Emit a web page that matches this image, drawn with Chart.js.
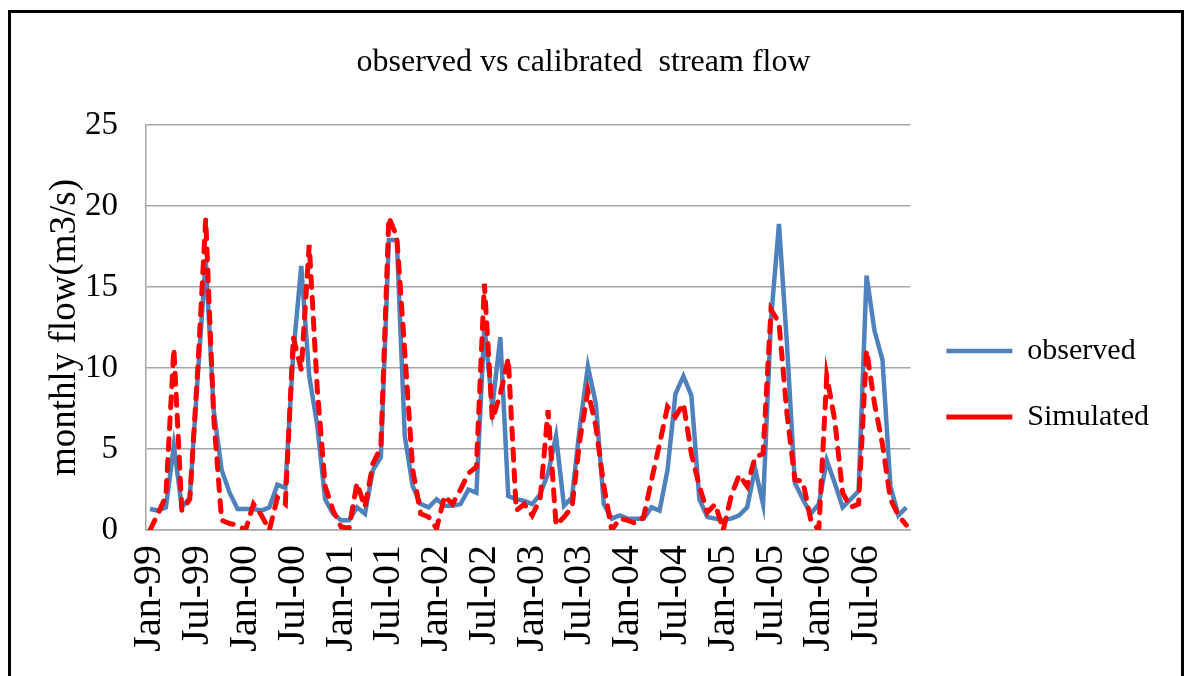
<!DOCTYPE html>
<html>
<head>
<meta charset="utf-8">
<script src="https://cdn.jsdelivr.net/npm/chart.js@4.4.1/dist/chart.umd.min.js"></script>
<style>
  html, body { margin: 0; padding: 0; background: #fff; overflow: hidden; }
  #frame { position: absolute; left: 8px; top: 10px; width: 1176px; height: 720px; border: 3px solid #000; box-sizing: border-box; }
  #wrap { position: absolute; left: 0; top: 0; width: 1185px; height: 676px; }
</style>
</head>
<body>
<div id="frame"></div>
<div id="wrap"><canvas id="flowChart" width="1185" height="676"></canvas></div>
<script>
// monthly flow, Jan-1999 .. Dec-2006
var months = ['Jan', 'Feb', 'Mar', 'Apr', 'May', 'Jun', 'Jul', 'Aug', 'Sep', 'Oct', 'Nov', 'Dec'];
var years = ['99', '00', '01', '02', '03', '04', '05', '06'];

var observed = [
  1.3, 1.2, 1.4, 5.2, 1.4, 2.0, 9.5, 16.7, 7.4, 3.7, 2.3, 1.3,
  1.3, 1.3, 1.2, 1.4, 2.8, 2.6, 10.9, 16.3, 9.5, 6.5, 1.9, 1.0,
  0.6, 0.6, 1.4, 1.0, 3.7, 4.5, 17.9, 17.9, 5.8, 2.7, 1.6, 1.4,
  1.9, 1.5, 1.5, 1.6, 2.5, 2.3, 12.6, 7.6, 11.9, 2.1, 1.9, 1.8,
  1.6, 2.2, 3.5, 5.8, 1.5, 2.0, 6.4, 10.1, 7.8, 1.6, 0.7, 0.9,
  0.7, 0.7, 0.7, 1.4, 1.2, 3.7, 8.4, 9.5, 8.3, 1.9, 0.8, 0.7,
  0.6, 0.7, 0.9, 1.4, 3.8, 1.6, 13.0, 18.9, 11.5, 2.9, 1.9, 1.0,
  1.6, 4.3, 2.9, 1.4, 1.9, 2.4, 15.7, 12.3, 10.5, 2.7, 0.9, 1.4
];
var simulated = [
  0, 1.0, 2.1, 11.2, 1.2, 1.9, 9.9, 19.2, 7.0, 0.6, 0.4, 0.3,
  0, 1.6, 0.9, 0, 2.0, 1.6, 11.9, 9.9, 17.6, 8.8, 2.7, 1.2,
  0.2, 0.1, 2.9, 1.4, 4.1, 5.1, 19.3, 18.1, 11.0, 3.7, 1.0, 0.8,
  0.1, 2.1, 1.6, 2.5, 3.5, 3.9, 15.2, 6.8, 8.4, 10.6, 1.2, 1.6,
  0.9, 1.9, 7.4, 0.3, 0.8, 1.4, 5.6, 8.6, 6.4, 2.7, 0, 0.7,
  0.6, 0.4, 0.8, 3.1, 5.3, 7.6, 7.0, 7.8, 4.7, 2.7, 1.1, 1.6,
  0, 2.1, 3.4, 2.7, 4.5, 4.7, 13.6, 12.8, 7.2, 3.1, 3.0, 0.6,
  0, 9.5, 6.8, 2.3, 1.4, 1.6, 11.1, 7.8, 5.3, 1.9, 0.9, 0.3
];

var labels = [];
years.forEach(function (yr) {
  months.forEach(function (m) { labels.push(m + '-' + yr); });
});

var serif = '"Liberation Serif", "Times New Roman", serif';
var gridGray = '#a6a6a6';

var ctx = document.getElementById('flowChart').getContext('2d');
var flowChart = new Chart(ctx, {
  type: 'line',
  data: {
    labels: labels,
    datasets: [{
      label: 'observed',
      data: observed,
      borderColor: '#4F81BD',
      backgroundColor: '#4F81BD',
      borderWidth: 4.5,
      pointRadius: 0,
      tension: 0,
      order: 1
    }, {
      label: 'Simulated',
      data: simulated,
      borderColor: '#FF0000',
      backgroundColor: '#FF0000',
      borderWidth: 5,
      borderDash: [11, 10],
      borderCapStyle: 'round',
      pointRadius: 0,
      tension: 0,
      order: 0
    }]
  },
  options: {
    responsive: false,
    animation: false,
    layout: { padding: { left: 8, right: 26, top: 0, bottom: 0 } },
    plugins: {
      tooltip: { enabled: false },
      title: {
        display: true,
        text: 'observed vs calibrated  stream flow',
        color: '#000',
        font: { family: serif, size: 32, weight: 'normal' },
        padding: { top: 43, bottom: 43.6 }
      },
      legend: {
        position: 'right',
        fullSize: true,
        title: { display: true, text: '', font: { size: 12 }, padding: { top: 77.6, bottom: 0 } },
        labels: {
          usePointStyle: true,
          pointStyle: 'line',
          pointStyleWidth: 66,
          color: '#000',
          font: { family: serif, size: 30 },
          padding: 36,
          sort: function (a, b) { return a.datasetIndex - b.datasetIndex; }
        }
      }
    },
    scales: {
      x: {
        offset: true,
        grid: { display: false, drawTicks: false },
        border: { color: gridGray, width: 1.5 },
        ticks: {
          autoSkip: false,
          minRotation: 90,
          maxRotation: 90,
          padding: 15,
          color: '#000',
          font: { family: serif, size: 40 },
          callback: function (v, i) { return i % 6 === 0 ? labels[i] : ''; }
        },
        afterFit: function (s) { s.height = 146; }
      },
      y: {
        min: 0,
        max: 25,
        ticks: { stepSize: 5, padding: 28, color: '#000', font: { family: serif, size: 33 } },
        grid: { color: gridGray, lineWidth: 1.5, drawTicks: false },
        border: { color: gridGray, width: 1.5 },
        title: {
          display: true,
          text: 'monthly flow(m3/s)',
          color: '#000',
          font: { family: serif, size: 37 },
          padding: { top: 35, bottom: 0 }
        },
        afterFit: function (s) { s.width = 138; }
      }
    }
  }
});
</script>
</body>
</html>
